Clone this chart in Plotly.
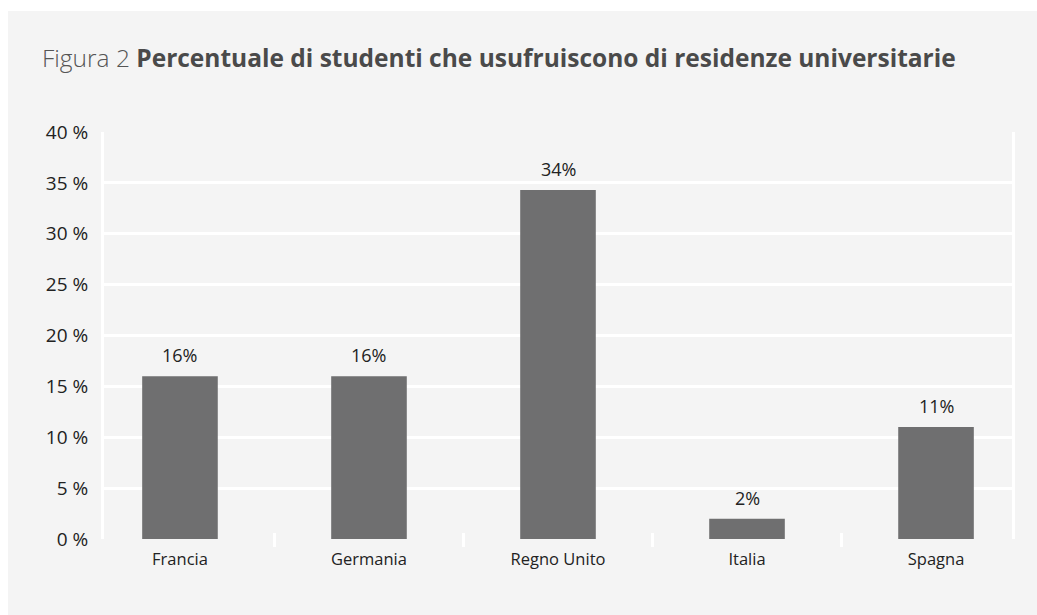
import plotly.graph_objects as go

categories = ["Francia", "Germania", "Regno Unito", "Italia", "Spagna"]
values = [16.0, 16.0, 34.3, 2.0, 11.0]
y_ticks = [0, 5, 10, 15, 20, 25, 30, 35, 40]
y_tick_labels = [f"{v} %" for v in y_ticks]

BG = "#f4f4f4"
BAR = "#6f6f70"
FONT = "Open Sans"

W, H = 1037, 615
L, R, T, B = 104, 25, 132, 76
pw, ph = W - L - R, H - T - B

def px_x(px):
    return (px - L) / pw

def px_y(py):
    return (H - B - py) / ph

fig = go.Figure()
fig.add_trace(go.Bar(
    x=categories, y=values, width=0.40, marker=dict(color=BAR, line=dict(width=0)),
))

annotations = [dict(x=c, y=v, xref="x", yref="y", text=f"{v:.0f}%", showarrow=False,
                    yanchor="bottom", yshift=7,
                    font=dict(family=FONT, size=18, color="#222222"))
               for c, v in zip(categories, values)]

shapes = [dict(type="rect", xref="paper", yref="paper",
               x0=px_x(8), x1=px_x(W + 5), y0=px_y(H + 5), y1=px_y(11),
               fillcolor=BG, line=dict(width=0), layer="below")]
for i in range(len(categories) - 1):
    shapes.append(dict(type="line", xref="x", yref="y domain",
                       x0=i + 0.5, x1=i + 0.5, y0=-8 / ph, y1=6 / ph,
                       line=dict(color="white", width=3), layer="above"))

fig.update_layout(
    width=W, height=H, margin=dict(l=L, r=R, t=T, b=B),
    paper_bgcolor="white", plot_bgcolor=BG, showlegend=False,
    font=dict(family=FONT, color="#222222"),
    title=dict(text="<span style='font-weight:300;color:#555555'>Figura 2</span> <b>Percentuale di studenti che usufruiscono di residenze universitarie</b>",
               xref="container", x=42 / W, xanchor="left",
               yref="container", y=1 - 58 / H, yanchor="middle",
               font=dict(family=FONT, size=24.5, color="#4a4a4a")),
    shapes=shapes,
    annotations=annotations,
    xaxis=dict(range=[-0.402, 4.402], showgrid=False, showline=False, zeroline=False,
               ticks="", ticklabelstandoff=8,
               tickfont=dict(family=FONT, size=16.5, color="#222222"),
               fixedrange=True),
    yaxis=dict(range=[0, 40], tickvals=y_ticks, ticktext=y_tick_labels,
               showgrid=True, gridcolor="white", gridwidth=3,
               showline=True, linecolor="white", linewidth=3, mirror=True,
               zeroline=False, ticks="", ticklabelstandoff=9,
               tickfont=dict(family=FONT, size=19, color="#222222")),
)

fig.write_html("out.html")
